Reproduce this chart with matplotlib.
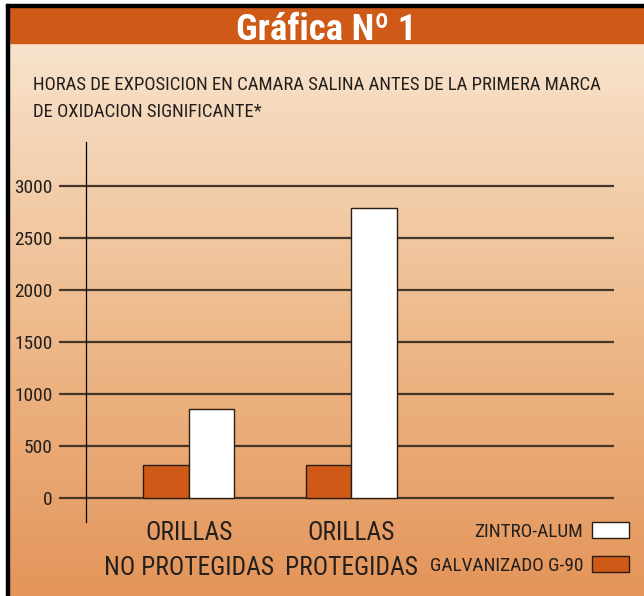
import os

import matplotlib.pyplot as plt
import matplotlib.font_manager as fm
import numpy as np
from matplotlib.colors import LinearSegmentedColormap
from matplotlib.patches import Rectangle

# data
categories = ["ORILLAS\nNO PROTEGIDAS", "ORILLAS\nPROTEGIDAS"]
galvanizado = [310, 310]
zintro = [850, 2790]
series_names = ["ZINTRO-ALUM", "GALVANIZADO G-90"]
yticks = [0, 500, 1000, 1500, 2000, 2500, 3000]

title = "Gráfica Nº 1"
subtitle = ("HORAS DE EXPOSICION EN CAMARA SALINA ANTES DE LA PRIMERA MARCA\n"
            "DE OXIDACION SIGNIFICANTE*")

W, H = 644, 596
ORANGE = "#CF5A17"
GRID = "#45362a"
TEXT = "#231f1c"


def pick_narrow_font():
    # the original uses a condensed grotesque; take whatever narrow face exists
    entries = fm.fontManager.ttflist
    names = {f.name for f in entries}
    for p in ['Roboto Condensed', 'Liberation Sans Narrow', 'DejaVu Sans Condensed',
              'Noto Sans Condensed', 'Open Sans Condensed', 'Arial Narrow']:
        if p in names:
            return p, 'normal'
    for base in ['Roboto', 'Noto Sans', 'DejaVu Sans', 'Open Sans', 'Liberation Sans']:
        for f in entries:
            fn = os.path.basename(f.fname).lower()
            if f.name == base and (str(f.stretch) == 'condensed' or 'condensed' in fn) \
                    and 'extra' not in fn and 'semi' not in fn:
                return f.name, f.stretch if f.stretch != 'normal' else 'condensed'
    return 'DejaVu Sans', 'normal'


family, stretch = pick_narrow_font()
plt.rcParams['font.family'] = [family, 'DejaVu Sans']
plt.rcParams['font.stretch'] = stretch

fig = plt.figure(figsize=(W / 100, H / 100), dpi=100)
renderer = fig.canvas.get_renderer()


def fit_size(s, target_px, weight='normal'):
    t = fig.text(0, 0, s, fontsize=10, fontweight=weight)
    w = t.get_window_extent(renderer=renderer).width
    t.remove()
    return 10 * target_px / w


def line_factor(size, target_px):
    prop = fm.FontProperties(family=plt.rcParams['font.family'], size=size,
                             stretch=stretch)
    _, h, d = renderer.get_text_width_height_descent("lp", prop, ismath=False)
    return target_px / (h - d)


# sized from the widths in the reference, a touch larger since the face is wider
title_fs = fit_size(title, 170, 'bold') * 1.06
sub_fs = fit_size(subtitle.split("\n")[0], 571)
cat_fs = fit_size("NO PROTEGIDAS", 160) * 1.06
tick_fs = fit_size("3000", 36) * 1.05
leg_fs = fit_size("GALVANIZADO G-90", 147) * 1.04

# background layer, in pixel coordinates
bg = fig.add_axes([0, 0, 1, 1])
bg.set_xlim(0, W)
bg.set_ylim(H, 0)
bg.axis('off')
grad = np.linspace(0, 1, 256).reshape(-1, 1)
cmap = LinearSegmentedColormap.from_list('peach', ['#F8E3CD', '#EEBB8D', '#E4955A'])
bg.imshow(grad, cmap=cmap, extent=(9, W, H, 43), aspect='auto')
bg.add_patch(Rectangle((9, 7), W - 9, 36, color=ORANGE))
bg.add_patch(Rectangle((6, 4), 3, H - 4, color='black'))
bg.add_patch(Rectangle((6, 4), W - 6, 3, color='black'))

bg.text(326, 40, title, ha='center', va='baseline', color='white',
        fontsize=title_fs, fontweight='bold')
bg.text(33, 76, subtitle, ha='left', va='top', color=TEXT,
        fontsize=sub_fs, linespacing=line_factor(sub_fs, 22.8))

# chart
ax = fig.add_axes([59 / W, (H - 522) / H, (614 - 59) / W, (522 - 142) / H])
ax.patch.set_alpha(0)

x = np.arange(len(categories))
w = 0.28
b_g = ax.bar(x - w / 2, galvanizado, w, color=ORANGE, edgecolor='#2a1d14', lw=1)
b_z = ax.bar(x + w / 2, zintro, w, color='white', edgecolor='#2a1d14', lw=1)

ax.set_xlim(-0.798, 2.616)
ax.set_ylim(-234, 3420)
ax.set_yticks(yticks)
ax.grid(axis='y', color=GRID, lw=1.6)
ax.set_axisbelow(True)

for s in ['top', 'right', 'bottom']:
    ax.spines[s].set_visible(False)
ax.spines['left'].set_position(('data', -0.632))
ax.spines['left'].set_linewidth(0.9)

ax.tick_params(axis='y', length=0, pad=23.8, labelsize=tick_fs, labelcolor=TEXT)
ax.set_xticks(x, categories)
ax.tick_params(axis='x', length=0, pad=-1, labelsize=cat_fs, labelcolor=TEXT)
cat_ls = line_factor(cat_fs, 30.5)
for lab in ax.get_xticklabels():
    lab.set_linespacing(cat_ls)

fpx = leg_fs * 100 / 72
leg = ax.legend([b_z, b_g], series_names, loc='upper right',
                bbox_to_anchor=(629 / W, (H - 522) / H), bbox_transform=fig.transFigure,
                frameon=False, markerfirst=False, fontsize=leg_fs,
                handlelength=37 / fpx, handleheight=18 / fpx, handletextpad=9 / fpx,
                labelspacing=15 / fpx, borderpad=0, borderaxespad=0)
for t in leg.get_texts():
    t.set_color(TEXT)

fig.savefig('out.png', dpi=100)
